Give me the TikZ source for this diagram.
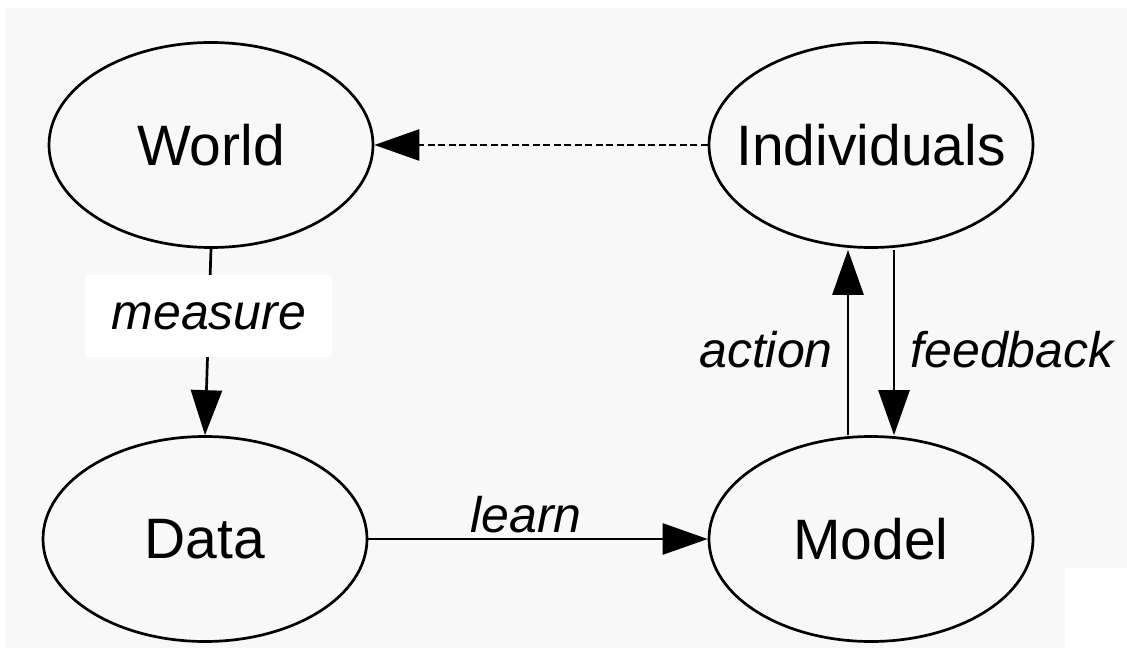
\documentclass[tikz,border=0pt]{standalone}
\usepackage{fontspec}
\setmainfont{Liberation Sans}
\usetikzlibrary{arrows.meta,shapes.geometric}
\definecolor{bggray}{HTML}{F8F8F8}
\newcommand{\zw}[1]{\makebox[0pt]{#1}}
\tikzset{
  state/.style={ellipse,draw=black,line width=2.7pt,minimum width=324pt,minimum height=205pt,inner sep=0pt,font=\fontsize{57}{60}\selectfont},
  conn/.style={line width=2.7pt,-{Triangle[length=45pt,width=31pt]}},
  lbl/.style={font=\fontsize{50}{54}\selectfont\itshape,inner sep=0pt,anchor=base}
}
\begin{document}
\begin{tikzpicture}[x=1pt,y=-1pt]
\useasboundingbox (0,0) rectangle (1127,655);
\fill[white] (0,0) rectangle (1127,655);
\fill[bggray] (6,8) rectangle (1127,648);
\fill[white] (1065,568) rectangle (1127,655);
\node[state] (world) at (211,145) {\zw{World}};
\node[state] (ind) at (871,145) {\zw{Individuals}};
\node[state] (data) at (205,539) {\zw{Data}};
\node[state] (model) at (871,539) {\zw{Model}};
\draw[conn] (world.south) -- (data.north)
  node[pos=0.36,fill=white,minimum width=247pt,minimum height=82pt,inner sep=0pt,font=\fontsize{50}{54}\selectfont\itshape] (measure) {measure};
\draw[conn,dash pattern=on 7pt off 3.5pt] (ind.west) -- (world.east);
\draw[conn] (data.east) -- (model.west);
\draw[conn] ([xshift=-23pt]model.north) -- ([xshift=-23pt,yshift=-1pt]ind.south);
\draw[conn] ([xshift=23pt,yshift=-1pt]ind.south) -- ([xshift=23pt]model.north);
\node[lbl] (learn) at (526,532) {learn};
\node[lbl] (action) at (766,367) {action};
\node[lbl] (feedback) at (1012,367) {feedback};
\end{tikzpicture}
\end{document}
